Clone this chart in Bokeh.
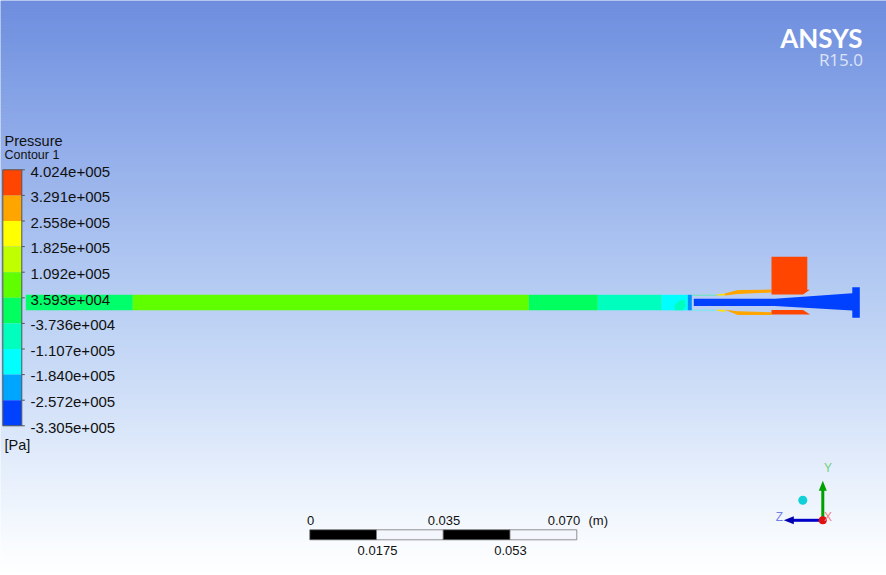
from bokeh.plotting import figure
from bokeh.models import Range1d
from bokeh.core.properties import value
from bokeh.embed import file_html
from bokeh.resources import INLINE

# Contour legend
legend_labels = ["4.024e+005", "3.291e+005", "2.558e+005", "1.825e+005", "1.092e+005", "3.593e+004",
                 "-3.736e+004", "-1.107e+005", "-1.840e+005", "-2.572e+005", "-3.305e+005"]
legend_colors = ["#FF4500", "#FFA500", "#FFFF00", "#BFFF00", "#5FFF00", "#00FF5F",
                 "#00FFBF", "#00FFFF", "#00A5FF", "#0040FF"]
legend_y = [170, 195.6, 221.2, 246.8, 272.4, 298, 323.6, 349.2, 374.8, 400.4, 426]

# Background gradient stops (image y, colour channels)
bg_y = [0, 60, 120, 180, 240, 300, 360, 420, 480, 540, 575]
bg_r = [110, 124, 140, 155, 170, 184, 199, 215, 232, 248, 255]
bg_g = [141, 155, 168, 181, 194, 206, 217, 228, 240, 251, 255]
bg_b = [222, 227, 232, 236, 240, 243, 246, 249, 252, 254, 255]

# Channel contour segments (px image coordinates)
tube_left = [26, 133, 529, 598, 662]
tube_right = [133, 529, 598, 662, 688]
tube_colors = ["#00FF6A", "#5FFF00", "#00FF5F", "#00FFBF", "#00FFFF"]
tube_top, tube_bottom = 295, 310.5

# Outline polygons
blob_x = [675, 679, 685, 686, 683, 675]
blob_y = [305, 301, 300, 306, 310.5, 310.5]
red_block_x = [771.7, 807.5, 807.5, 810, 803.3, 771.7]
red_block_y = [257, 257, 290, 290, 294.7, 294.7]
red_low_x = [771.7, 803.3, 810.3, 771.7]
red_low_y = [310.3, 310.3, 314.7, 314.7]
orange_top_x = [725, 738, 771.7, 771.7, 738, 725]
orange_top_y = [293.6, 290.2, 289.8, 292.6, 294.3, 295.8]
orange_low_x = [725, 738, 771.7, 771.7, 738]
orange_low_y = [310, 311.5, 312.5, 315.3, 315.3]
yellow_top_x = [717, 725, 725, 717]
yellow_top_y = [294.7, 293.6, 295.8, 295.8]
yellow_low_x = [717, 725, 725, 717]
yellow_low_y = [310, 310, 312.3, 311]
nozzle_x = [694, 775, 852.5, 852.5, 860, 860, 852.5, 852.5, 775, 694]
nozzle_y = [299, 299, 293.5, 287.5, 287.5, 318, 318, 310.7, 306.3, 306.3]

# Scale bar
scale_edges = [310, 376.7, 443.5, 510.2, 577]
scale_fill = ["#000000", "#F4F6FD", "#000000", "#F4F6FD"]
scale_top_labels = ["0", "0.035", "0.070"]
scale_top_x = [310, 443.5, 563.5]
scale_low_labels = ["0.0175", "0.053"]
scale_low_x = [377, 510]

W, H = 886, 575
SHIFT = 0.7
p = figure(width=W, height=H, output_backend="svg", toolbar_location=None,
           x_range=Range1d(SHIFT, W + SHIFT), y_range=Range1d(H + SHIFT, SHIFT), min_border=0,
           outline_line_color=None)
p.xaxis.visible = False
p.yaxis.visible = False
p.grid.visible = False
off = dict(x_offset=SHIFT, y_offset=SHIFT)

# Background
def lerp(stops, y):
    for i in range(len(bg_y) - 1):
        if bg_y[i] <= y <= bg_y[i + 1]:
            t = (y - bg_y[i]) / (bg_y[i + 1] - bg_y[i])
            return int(round(stops[i] + t * (stops[i + 1] - stops[i])))
    return stops[-1]
rows = list(range(0, H + 3, 3))
p.quad(left=0, right=W + 2, top=rows, bottom=[r + 3.4 for r in rows],
       fill_color=["#%02X%02X%02X" % (lerp(bg_r, r), lerp(bg_g, r), lerp(bg_b, r)) for r in rows],
       line_color=None)

# Channel
p.quad(left=tube_left, right=tube_right, top=tube_top, bottom=tube_bottom, fill_color=tube_colors, line_color=None)
p.patch(blob_x, blob_y, fill_color="#00FFBF", line_color=None)
p.quad(left=[688], right=[692], top=[295], bottom=[310.5], fill_color="#0090FF", line_color=None)
p.quad(left=[692, 692], right=[717, 717], top=[295, 310], bottom=[295.7, 310.8],
       fill_color=["#40F0A0", "#60F0F0"], line_color=None)

# Throat, diffuser, flange
p.patch(orange_top_x, orange_top_y, fill_color="#FFA500", line_color=None)
p.patch(orange_low_x, orange_low_y, fill_color="#FFA500", line_color=None)
p.patch(yellow_top_x, yellow_top_y, fill_color="#FFE000", line_color=None)
p.patch(yellow_low_x, yellow_low_y, fill_color="#FFE000", line_color=None)
p.patch(red_block_x, red_block_y, fill_color="#FF4500", line_color=None)
p.patch(red_low_x, red_low_y, fill_color="#FF4500", line_color=None)
p.patch(nozzle_x, nozzle_y, fill_color="#0040FF", line_color=None)

# Legend
font = value("Liberation Sans")
p.quad(left=3, right=22, top=legend_y[:-1], bottom=legend_y[1:], fill_color=legend_colors, line_color=None)
p.quad(left=[3], right=[22], top=[170], bottom=[426], fill_color=None, line_color="#555555", line_width=1)
p.segment(x0=22, x1=25, y0=legend_y, y1=legend_y, line_color="#555555", line_width=1)
p.text(x=30, y=[v + 1 for v in legend_y], text=legend_labels, text_font=font, text_font_size="15px",
       text_baseline="middle", text_color="#111111", **off)
p.text(x=[4], y=[140], text=["Pressure"], text_font=font, text_font_size="14.5px", text_baseline="middle", text_color="#111111", **off)
p.text(x=[4], y=[154.5], text=["Contour 1"], text_font=font, text_font_size="12.5px", text_baseline="middle", text_color="#111111", **off)
p.text(x=[4], y=[444], text=["[Pa]"], text_font=font, text_font_size="14.5px", text_baseline="middle", text_color="#111111", **off)

# Scale bar
p.quad(left=scale_edges[:-1], right=scale_edges[1:], top=530, bottom=540, fill_color=scale_fill,
       line_color="#666666", line_width=0.7)
p.text(x=scale_top_x, y=520, text=scale_top_labels, text_font=font, text_font_size="13px",
       text_align="center", text_baseline="middle", text_color="#111111", **off)
p.text(x=scale_low_x, y=549.5, text=scale_low_labels, text_font=font, text_font_size="13px",
       text_align="center", text_baseline="middle", text_color="#111111", **off)
p.text(x=[588], y=[520], text=["(m)"], text_font=font, text_font_size="13px", text_baseline="middle", text_color="#111111", **off)

# Triad
p.segment(x0=[823, 823], y0=[520.5, 520.5], x1=[823, 792], y1=[490, 520.5],
          line_color=["#00A000", "#0000C8"], line_width=3)
p.patch([823, 819, 827], [481, 491, 491], fill_color="#00A000", line_color=None)
p.patch([784, 794, 794], [520.5, 516.5, 524.5], fill_color="#0000B0", line_color=None)
p.scatter(x=[823], y=[520.5], size=8, fill_color="#E01010", line_color=None)
p.scatter(x=[803], y=[500.5], size=9, fill_color="#10D0D8", line_color=None)
p.text(x=[827.5], y=[467.5], text=["Y"], text_font=font, text_font_size="12px", text_align="center",
       text_baseline="middle", text_color="#70D080", **off)
p.text(x=[779], y=[516.5], text=["Z"], text_font=font, text_font_size="12px", text_align="center",
       text_baseline="middle", text_color="#7080E8", **off)
p.text(x=[827.5], y=[516.5], text=["X"], text_font=font, text_font_size="12px", text_align="center",
       text_baseline="middle", text_color="#F08080", **off)

# Logo
p.text(x=[862], y=[37.5], text=["ANSYS"], text_font=value("Lato"), text_font_style="bold", text_font_size="26px",
       text_align="right", text_baseline="middle", text_color="#FFFFFF", **off)
p.text(x=[862.5], y=[59], text=["R15.0"], text_font=value("Open Sans"), text_font_size="17px",
       text_align="right", text_baseline="middle", text_color="#DCE4F8", **off)

open("out.html", "w").write(file_html(p, INLINE))
